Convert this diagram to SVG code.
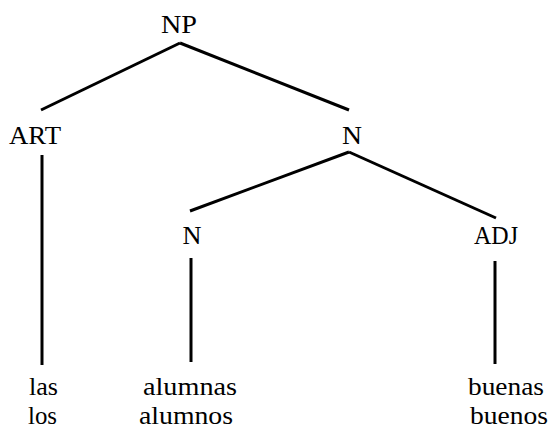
<svg xmlns="http://www.w3.org/2000/svg" width="550" height="428" viewBox="0 0 550 428">
<style>
text{font-family:"Liberation Serif","Times New Roman",serif;font-size:25px;fill:#000;text-anchor:middle}
line{stroke:#000;stroke-width:3;stroke-linecap:butt}
</style>
<rect width="550" height="428" fill="#fff"/>
<g id="edges">
<line x1="180" y1="43" x2="41" y2="110"/>
<line x1="180" y1="43" x2="349" y2="110"/>
<line x1="349" y1="152" x2="190" y2="211"/>
<line x1="349" y1="152" x2="496" y2="218"/>
<line x1="42" y1="155" x2="42" y2="365"/>
<line x1="191" y1="258" x2="191" y2="362"/>
<line x1="495" y1="261" x2="495" y2="364"/>
</g>
<g id="np"><text x="179" y="33" textLength="36" lengthAdjust="spacingAndGlyphs">NP</text></g>
<g id="art"><text x="35" y="144" textLength="52" lengthAdjust="spacingAndGlyphs">ART</text></g>
<g id="n1"><text x="352" y="144" textLength="20" lengthAdjust="spacingAndGlyphs">N</text></g>
<g id="n2"><text x="192" y="244" textLength="19" lengthAdjust="spacingAndGlyphs">N</text></g>
<g id="adj"><text x="496" y="244" textLength="44" lengthAdjust="spacingAndGlyphs">ADJ</text></g>
<g id="leaf-art"><text x="43.5" y="395" textLength="29" lengthAdjust="spacingAndGlyphs">las</text><text x="42.5" y="424" textLength="29" lengthAdjust="spacingAndGlyphs">los</text></g>
<g id="leaf-n"><text x="190" y="395" textLength="94" lengthAdjust="spacingAndGlyphs">alumnas</text><text x="186" y="424" textLength="94" lengthAdjust="spacingAndGlyphs">alumnos</text></g>
<g id="leaf-adj"><text x="506" y="395" textLength="76" lengthAdjust="spacingAndGlyphs">buenas</text><text x="509" y="424" textLength="78" lengthAdjust="spacingAndGlyphs">buenos</text></g>
</svg>
